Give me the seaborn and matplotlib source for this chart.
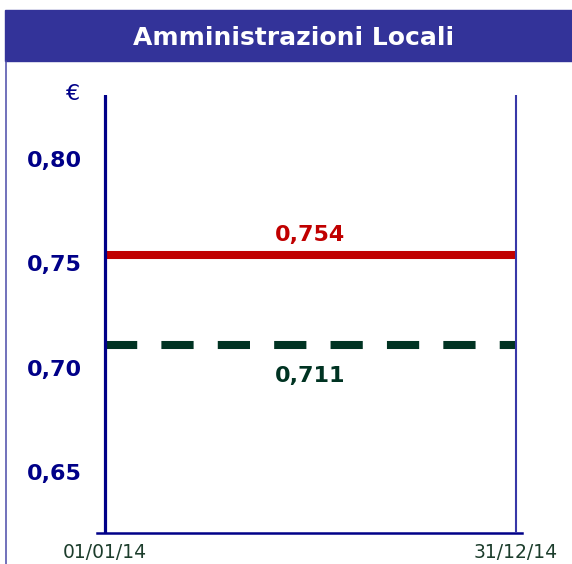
import pandas as pd
import matplotlib
matplotlib.use('Agg')
import matplotlib.pyplot as plt
from matplotlib.patches import Rectangle
from matplotlib.lines import Line2D
import seaborn as sns

# data
period = [pd.Timestamp('2014-01-01'), pd.Timestamp('2014-12-31')]
period_labels = ['01/01/14', '31/12/14']
red_value = 0.754
green_value = 0.711
y_ticks = [0.65, 0.70, 0.75, 0.80]
y_tick_labels = ['0,65', '0,70', '0,75', '0,80']
title = 'Amministrazioni Locali'

navy = '#000088'
red = '#C00000'
green = '#003322'

sns.set_style('white')
plt.rcParams['font.family'] = ['DejaVu Sans']

W, H = 572, 564
fig = plt.figure(figsize=(W / 100, H / 100), dpi=100)

# axes spans the bottom line (97..522 px), dates sit at 105 and 516 px
ax = fig.add_axes([97 / W, 1 - 533 / H, (522 - 97) / W, (533 - 95) / H])
days_per_px = (period[1] - period[0]) / (516 - 105)
ax.set_xlim(period[0] - 8 * days_per_px, period[1] + 6 * days_per_px)
ax.set_ylim(0.6208, 0.8306)

df = pd.DataFrame({'date': period,
                   'red': [red_value, red_value],
                   'green': [green_value, green_value]})

sns.lineplot(data=df, x='date', y='red', ax=ax, color=red, linewidth=5.8,
             solid_capstyle='butt', zorder=2)
sns.lineplot(data=df, x='date', y='green', ax=ax, color=green, linewidth=5.8,
             linestyle=(0, (4, 3)), dash_capstyle='butt', zorder=2)

# vertical boundaries of the year
ax.axvline(period[0], color=navy, linewidth=2.3, zorder=3)
ax.axvline(period[1], color='#3838a8', linewidth=1.5, zorder=3)

mid = period[0] + (period[1] - period[0]) / 2
ax.annotate(f'{red_value:.3f}'.replace('.', ','), (mid, red_value),
            xytext=(0, 10), textcoords='offset points', ha='center',
            va='baseline', color=red, fontsize=16, fontweight='bold')
ax.annotate(f'{green_value:.3f}'.replace('.', ','), (mid, green_value),
            xytext=(0, -27), textcoords='offset points', ha='center',
            va='baseline', color=green, fontsize=16, fontweight='bold')

for s in ['top', 'right', 'left']:
    ax.spines[s].set_visible(False)
ax.spines['bottom'].set_color(navy)
ax.spines['bottom'].set_linewidth(1.8)

ax.set_yticks(y_ticks)
ax.set_yticklabels(y_tick_labels, color=navy, fontsize=16, fontweight='bold')
ax.set_xticks(period)
ax.set_xticklabels(period_labels, color='#1c3d2c', fontsize=13.5)
ax.tick_params(axis='y', length=0, pad=11)
ax.tick_params(axis='x', length=0, pad=7)
ax.set_xlabel('')
ax.set_ylabel('')
ax.grid(False)

# header band and frame
fig.patches.append(Rectangle((5 / W, 1 - 61 / H), 1, 51 / H,
                             transform=fig.transFigure, color='#333399', zorder=0))
fig.lines.append(Line2D([6 / W, 6 / W], [0, 1 - 61 / H], transform=fig.transFigure,
                        color='#4a4aa8', linewidth=1.1))
fig.text(293.5 / W, 1 - 45 / H, title, color='white', fontsize=18,
         fontweight='bold', ha='center', va='baseline')
fig.text(73 / W, 1 - 94 / H, '€', color=navy, fontsize=16, ha='center', va='center')

fig.savefig('out.png', dpi=100)
